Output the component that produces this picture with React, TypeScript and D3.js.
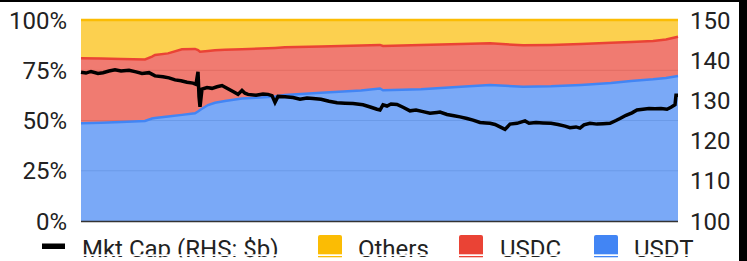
// @ts-nocheck
import { useEffect, useRef } from "react";
import * as d3 from "d3";

// day offsets from the start of the period (x axis has no labels)
const shareDays = [0, 20, 40, 64, 71, 74, 87, 101, 114, 117, 119, 127, 134, 144, 161, 180, 194, 204, 240, 280, 299, 302, 340, 380, 409, 442, 470, 500, 530, 550, 572, 585, 597];
const usdtShare = [48.6, 48.9, 49.3, 49.8, 51.0, 51.2, 52.0, 52.8, 53.6, 54.5, 55.2, 57.7, 58.8, 59.7, 61.0, 61.5, 61.9, 62.7, 63.8, 64.9, 65.9, 65.0, 65.6, 66.8, 67.7, 66.8, 67.0, 67.7, 68.6, 69.7, 70.5, 71.2, 72.1];
const usdcShare = [32.4, 31.9, 31.3, 30.6, 30.8, 31.4, 31.4, 32.6, 32.0, 30.5, 29.0, 26.9, 26.2, 25.5, 24.5, 24.3, 24.2, 23.7, 23.0, 22.4, 21.7, 22.1, 22.0, 21.3, 20.7, 20.6, 20.6, 20.3, 20.1, 19.4, 19.0, 19.1, 19.6];
const othersShare = [19.0, 19.2, 19.4, 19.6, 18.2, 17.4, 16.6, 14.6, 14.4, 15.0, 15.8, 15.4, 15.0, 14.8, 14.5, 14.2, 13.9, 13.6, 13.2, 12.7, 12.4, 12.9, 12.4, 11.9, 11.6, 12.6, 12.4, 12.0, 11.3, 10.9, 10.5, 9.7, 8.3];

const capDays = [0, 5, 10, 17, 22, 28, 34, 40, 48, 55, 61, 68, 74, 82, 88, 94, 100, 106, 112, 115, 117, 118, 119, 121, 126, 131, 136, 141, 146, 152, 157, 161, 164, 167, 175, 182, 187, 191, 194, 197, 204, 212, 219, 226, 232, 240, 248, 256, 264, 272, 282, 290, 296, 299, 302, 306, 310, 316, 322, 329, 335, 342, 349, 356, 359, 366, 373, 379, 386, 392, 399, 405, 409, 414, 419, 424, 429, 436, 444, 448, 455, 462, 470, 477, 484, 489, 495, 499, 503, 509, 516, 522, 529, 535, 539, 545, 551, 556, 562, 568, 574, 580, 586, 590, 594, 595, 597];
const mktCap = [137.0, 136.8, 137.2, 136.7, 136.9, 137.3, 137.6, 137.3, 137.5, 137.1, 136.7, 136.9, 136.1, 135.9, 135.6, 135.1, 134.9, 134.5, 134.3, 134.0, 137.1, 131.0, 128.4, 132.8, 133.2, 133.0, 133.4, 133.7, 133.0, 132.2, 131.5, 132.5, 131.8, 131.5, 131.3, 131.6, 131.5, 131.2, 129.5, 131.0, 130.9, 130.7, 130.3, 130.6, 130.5, 130.3, 129.8, 129.4, 129.3, 129.2, 128.9, 128.3, 127.8, 127.6, 128.9, 128.6, 129.1, 129.0, 128.3, 127.4, 127.6, 127.2, 126.8, 127.0, 127.1, 126.5, 126.2, 125.9, 125.5, 125.1, 124.5, 124.4, 124.3, 124.0, 123.4, 122.8, 124.1, 124.3, 124.9, 124.3, 124.5, 124.4, 124.3, 124.0, 123.6, 123.2, 123.4, 123.1, 123.9, 124.3, 124.1, 124.2, 124.3, 125.0, 125.5, 126.3, 126.9, 127.6, 127.8, 128.0, 127.9, 128.0, 127.8, 128.3, 128.9, 131.3, 131.3];

const leftTicks = [0, 25, 50, 75, 100];
const rightTicks = [100, 110, 120, 130, 140, 150];

const series = [
  { key: "usdt", name: "USDT", line: "#4285F4" },
  { key: "usdc", name: "USDC", line: "#EA4335" },
  { key: "others", name: "Others", line: "#FBBC04" },
];

const W = 747;
const H = 261;
const FONT = "Roboto, sans-serif";

export default function App() {
  const ref = useRef();

  useEffect(() => {
    const svg = d3.select(ref.current);
    svg.selectAll("*").remove();

    const margin = { top: 20, right: 69, bottom: 40, left: 81 };
    const x = d3.scaleLinear().domain([0, 597]).range([margin.left, W - margin.right]);
    const yL = d3.scaleLinear().domain([0, 100]).range([H - margin.bottom, margin.top]);
    const yR = d3.scaleLinear().domain([100, 150]).range([H - margin.bottom, margin.top]);

    svg.append("rect").attr("width", W).attr("height", H).attr("fill", "#fff");

    // gridlines sit under the translucent areas
    svg
      .append("g")
      .selectAll("line")
      .data(leftTicks.filter((t) => t > 0 && t < 100))
      .join("line")
      .attr("x1", x(0))
      .attr("x2", x(597))
      .attr("y1", (d) => yL(d))
      .attr("y2", (d) => yL(d))
      .attr("stroke", "#cccccc")
      .attr("stroke-width", 1);

    const table = shareDays.map((d, i) => ({
      day: d,
      usdt: usdtShare[i],
      usdc: usdcShare[i],
      others: othersShare[i],
    }));
    const stacked = d3.stack().keys(series.map((s) => s.key))(table);

    const area = d3
      .area()
      .x((d) => x(d.data.day))
      .y0((d) => yL(d[0]))
      .y1((d) => yL(d[1]));
    const topLine = d3
      .line()
      .x((d) => x(d.data.day))
      .y((d) => yL(d[1]));

    stacked.forEach((layer, i) => {
      svg
        .append("path")
        .datum(layer)
        .attr("d", area)
        .attr("fill", series[i].line)
        .attr("fill-opacity", 0.7);
    });
    stacked.forEach((layer, i) => {
      svg
        .append("path")
        .datum(layer)
        .attr("d", topLine)
        .attr("fill", "none")
        .attr("stroke", series[i].line)
        .attr("stroke-width", 2.5);
    });

    // baseline
    svg
      .append("line")
      .attr("x1", x(0))
      .attr("x2", x(597))
      .attr("y1", yL(0) + 0.5)
      .attr("y2", yL(0) + 0.5)
      .attr("stroke", "#333")
      .attr("stroke-width", 1.3);

    // market cap line (RHS)
    const capLine = d3
      .line()
      .x((d, i) => x(capDays[i]))
      .y((d) => yR(d));
    svg
      .append("path")
      .datum(mktCap)
      .attr("d", capLine)
      .attr("fill", "none")
      .attr("stroke", "#000")
      .attr("stroke-width", 3.5)
      .attr("stroke-linejoin", "miter");

    // axes labels
    svg
      .append("g")
      .selectAll("text")
      .data(leftTicks)
      .join("text")
      .attr("x", 67)
      .attr("y", (d) => yL(d))
      .attr("dy", "0.36em")
      .attr("text-anchor", "end")
      .style("font-family", FONT)
      .style("font-size", "24px")
      .attr("fill", "#222")
      .text((d) => d + "%");

    svg
      .append("g")
      .selectAll("text")
      .data(rightTicks)
      .join("text")
      .attr("x", 690)
      .attr("y", (d) => yR(d))
      .attr("dy", "0.36em")
      .attr("text-anchor", "start")
      .style("font-family", FONT)
      .style("font-size", "24px")
      .attr("fill", "#222")
      .text((d) => d);

    // legend
    const lg = svg.append("g").style("font-family", FONT).style("font-size", "24px");
    lg.append("rect").attr("x", 42).attr("y", 243.5).attr("width", 23).attr("height", 5.5).attr("fill", "#000");
    lg.append("text").attr("x", 82).attr("y", 257).attr("fill", "#222").text("Mkt Cap (RHS: $b)");
    const items = [
      { s: series[2], sx: 318, tx: 358 },
      { s: series[1], sx: 459, tx: 500 },
      { s: series[0], sx: 594, tx: 634 },
    ];
    items.forEach((it) => {
      lg.append("rect")
        .attr("x", it.sx)
        .attr("y", 235)
        .attr("width", 24)
        .attr("height", 24)
        .attr("rx", 2)
        .attr("fill", it.s.line);
      lg.append("text").attr("x", it.tx).attr("y", 257).attr("fill", "#222").text(it.s.name);
    });
    // the legend row is clipped: thin white band, then blank below
    svg.append("rect").attr("x", 0).attr("y", 254.3).attr("width", 739).attr("height", 1.7).attr("fill", "#fff");
    svg.append("rect").attr("x", 0).attr("y", 257.3).attr("width", 739).attr("height", 4).attr("fill", "#fff");

    // frame edges
    svg.append("rect").attr("x", 0).attr("y", 0).attr("width", W).attr("height", 2).attr("fill", "#000");
    svg.append("rect").attr("x", 739).attr("y", 0).attr("width", 8).attr("height", H).attr("fill", "#000");
  }, []);

  return (
    <svg
      ref={ref}
      width={W}
      height={H}
      style={{ position: "absolute", left: 0, top: 0, display: "block" }}
    />
  );
}
